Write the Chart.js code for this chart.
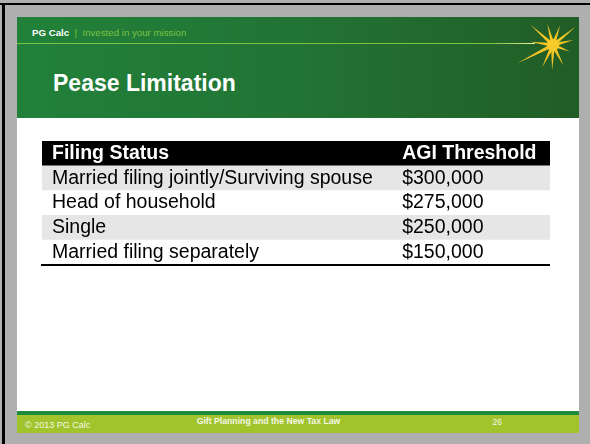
<!DOCTYPE html>
<html>
<head>
<meta charset="utf-8">
<title>Pease Limitation</title>
<script src="https://cdn.jsdelivr.net/npm/chart.js@4"></script>
<style>
  html, body { margin: 0; padding: 0; }
  body {
    width: 590px; height: 444px; position: relative; overflow: hidden;
    background: #afafaf;
    font-family: 'Liberation Sans', Arial, sans-serif;
  }
  .edge-top { position: absolute; left: 0; top: 3px; width: 590px; height: 2px; background: #000; }
  .edge-left { position: absolute; left: 2px; top: 3px; width: 3px; height: 441px; background: #000; }
  .slide { position: absolute; left: 17px; top: 17px; width: 562px; height: 416px; background: #fff; }
  .header {
    position: absolute; left: 0; top: 0; width: 562px; height: 101px;
    background: linear-gradient(to right, #21813a 0%, #227434 50%, #215d26 100%);
  }
  .rule { position: absolute; left: 0; top: 26px; width: 518px; height: 1px;
    background: linear-gradient(to right, #7cc242 0%, #7cc242 92%, #f3f0a0 100%); }
  .brand { position: absolute; left: 15px; top: 10.5px; font-size: 9.7px; line-height: 9.7px; white-space: nowrap; }
  .brand b { color: #fff; }
  .brand span { color: #7cc242; }
  .title { position: absolute; left: 36px; top: 54.5px; font-size: 23px; line-height: 23px;
    font-weight: bold; color: #fff; white-space: nowrap; }
  .foot-dark { position: absolute; left: 0; top: 394px; width: 562px; height: 4px; background: #1f8a3c; }
  .foot { position: absolute; left: 0; top: 398px; width: 562px; height: 18px; background: #a1c42d; }
  .foot div { position: absolute; white-space: nowrap; color: #f4f7e6; }
  .copy { left: 8px; top: 5.7px; font-size: 9px; line-height: 9px; }
  .deck { left: 0; width: 503px; text-align: center; top: 2px; font-size: 8.7px; line-height: 8.7px; font-weight: bold; }
  .page { right: 77px; top: 2.8px; font-size: 8.5px; line-height: 8.5px; }
  #star { position: absolute; left: 500px; top: 5px; }
  #wrap { position: absolute; left: 22px; top: 117px; width: 528px; height: 172px; }
</style>
</head>
<body>
<div class="edge-top"></div>
<div class="edge-left"></div>
<div class="slide">
  <div class="header">
    <div class="rule"></div>
    <div class="brand"><b>PG Calc</b> <span>&nbsp;|&nbsp; Invested in your mission</span></div>
    <div class="title">Pease Limitation</div>
  </div>
  <div class="foot-dark"></div>
  <div class="foot">
    <div class="copy">© 2013 PG Calc</div>
    <div class="deck">Gift Planning and the New Tax Law</div>
    <div class="page">26</div>
  </div>
</div>
<svg id="star" width="90" height="80"></svg>
<div id="wrap"><canvas id="table" width="528" height="172"></canvas></div>

<script>
// table content
const headers = ['Filing Status', 'AGI Threshold'];
const filingStatus = [
    'Married filing jointly/Surviving spouse',
    'Head of household',
    'Single',
    'Married filing separately'
];
const thresholds = [300000, 275000, 250000, 150000];

const FONT = "'Liberation Sans', Arial, sans-serif";
const rowLabels = [headers[0], ...filingStatus];
const money = v => '$' + v.toLocaleString('en-US');

// logo sun, rays as [angle in degrees, length]
(function drawStar() {
    const svg = document.getElementById('star');
    const cx = 53, cy = 40;
    const rays = [[-138, 30], [-105, 22], [-70, 21], [-39, 29], [-14, 21], [21, 18],
                  [63, 23], [92, 25], [116, 25], [153, 40], [-172, 23]];
    let out = '';
    rays.forEach(([a, len]) => {
        const r = a * Math.PI / 180, n = r + Math.PI / 2, w = 2;
        const tx = cx + Math.cos(r) * len, ty = cy + Math.sin(r) * len;
        out += `<polygon points="${cx + Math.cos(n) * w},${cy + Math.sin(n) * w} ${tx},${ty} ${cx - Math.cos(n) * w},${cy - Math.sin(n) * w}" fill="#f5c526"/>`;
    });
    out += `<circle cx="${cx}" cy="${cy}" r="6" fill="#f7cb2c"/>`;
    svg.innerHTML = out;
})();

// second column text, placed on the same scales as the rows
const valueColumn = {
    id: 'valueColumn',
    afterDatasetsDraw(chart, args, opts) {
        const { ctx, scales: { x, y } } = chart;
        const left = x.getPixelForValue(opts.start);
        const texts = [headers[1], ...thresholds.map(money)];
        ctx.save();
        ctx.textAlign = 'left';
        ctx.textBaseline = 'middle';
        texts.forEach((t, i) => {
            ctx.font = (i === 0 ? 'bold ' : '') + '19.5px ' + FONT;
            ctx.fillStyle = i === 0 ? '#fff' : '#000';
            ctx.fillText(t, left, y.getPixelForValue(i));
        });
        ctx.restore();
    }
};

new Chart(document.getElementById('table'), {
    type: 'bar',
    data: {
        labels: rowLabels,
        datasets: [{
            data: rowLabels.map(() => 1),
            backgroundColor: rowLabels.map((_, i) => i === 0 ? '#000' : (i % 2 ? '#e6e6e6' : '#fff')),
            borderWidth: 0,
            categoryPercentage: 1,
            barPercentage: 1
        }]
    },
    options: {
        indexAxis: 'y',
        responsive: false,
        animation: false,
        layout: { padding: { top: 24, bottom: 24, left: 0, right: 0 } },
        plugins: {
            legend: { display: false },
            tooltip: { enabled: false },
            valueColumn: { start: 0.709 }
        },
        scales: {
            x: {
                type: 'linear', min: 0, max: 1, position: 'bottom',
                grid: { display: false, drawTicks: false },
                ticks: { display: false },
                border: { display: true, color: '#000', width: 2, z: 1 }
            },
            y: {
                type: 'category', position: 'left', offset: true,
                grid: { display: false, drawTicks: false },
                border: { display: false },
                ticks: {
                    mirror: true, padding: 10, z: 1, autoSkip: false,
                    color: c => c.index === 0 ? '#fff' : '#000',
                    font: c => ({ family: FONT, size: 19.5, weight: c.index === 0 ? 'bold' : 'normal' })
                }
            }
        }
    },
    plugins: [valueColumn]
});
</script>
</body>
</html>
